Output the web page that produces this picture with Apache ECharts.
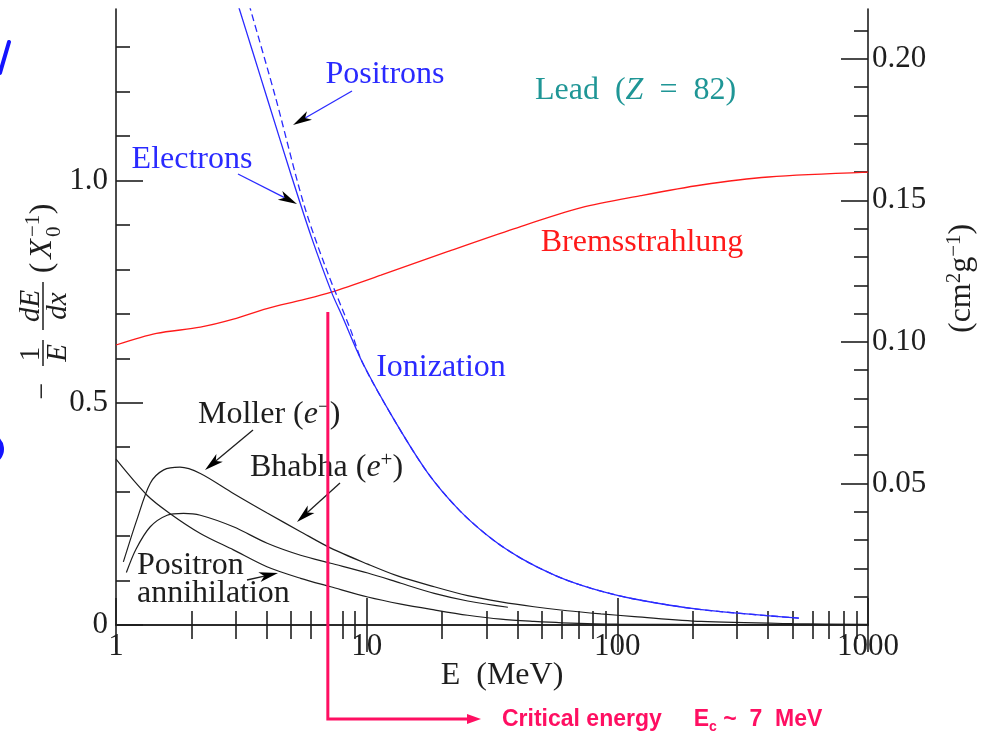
<!DOCTYPE html>
<html>
<head>
<meta charset="utf-8">
<script src="https://cdn.jsdelivr.net/npm/echarts@6/dist/echarts.min.js"></script>
<style>
  html, body { margin: 0; padding: 0; background: #ffffff; }
  #chart { width: 981px; height: 735px; }
</style>
</head>
<body>
<div id="chart"></div>
<script>
// Fractional energy loss per radiation length in lead, -(1/E) dE/dx in units of 1/X0.
// Energies in MeV.
const ionElectronE = [3.0, 3.105, 3.5, 4.0, 5.0, 6.0, 7.24, 8.0, 9.61, 12.86, 17.49, 23.4, 31.33, 41.3, 57.0, 78.7, 116.9, 216.8, 529.7];
const ionElectronV = [1.412, 1.386, 1.292, 1.187, 1.012, 0.875, 0.749, 0.694, 0.591, 0.462, 0.343, 0.2585, 0.195, 0.150, 0.1105, 0.0825, 0.0585, 0.0345, 0.0155];

const ionPositronE = [3.3, 3.436, 4.325, 5.598, 6.855, 8.63, 9.61, 12.86, 17.49, 23.4, 31.33, 41.3, 57.0, 78.7, 116.9, 216.8, 529.7];
const ionPositronV = [1.421, 1.386, 1.188, 0.949, 0.805, 0.664, 0.591, 0.462, 0.343, 0.2585, 0.195, 0.150, 0.1105, 0.0825, 0.0585, 0.0345, 0.0155];

const bremsE = [1, 1.45, 2.17, 2.94, 4.0, 5.5, 7.24, 11.4, 21.0, 38.9, 71.8, 124, 216, 401, 1000];
const bremsV = [0.630, 0.656, 0.670, 0.688, 0.712, 0.731, 0.749, 0.787, 0.840, 0.892, 0.939, 0.966, 0.990, 1.008, 1.019];

const mollerE = [1.07, 1.21, 1.37, 1.55, 1.8, 2.17, 2.94, 4.01, 5.45, 7.19, 10.1, 13.2, 18.6, 25.3, 34.3, 46.5, 63.1, 86, 117, 216, 500, 1000];
const mollerV = [0.142, 0.236, 0.319, 0.349, 0.355, 0.341, 0.296, 0.252, 0.210, 0.173, 0.137, 0.111, 0.086, 0.066, 0.052, 0.041, 0.032, 0.025, 0.019, 0.0080, 0.003, 0.0015];

const bhabhaE = [1.10, 1.2, 1.37, 1.6, 1.86, 2.17, 2.94, 4.01, 5.45, 7.19, 10.1, 13.7, 18.6, 25.3, 36.6];
const bhabhaV = [0.118, 0.170, 0.221, 0.247, 0.251, 0.247, 0.221, 0.184, 0.157, 0.139, 0.117, 0.094, 0.071, 0.054, 0.040];

const annihE = [1, 1.33, 1.64, 2.17, 2.94, 4.0, 5.45, 7.19, 10.1, 13.7, 18.6, 25.3, 34.3, 46.5, 60, 100, 1000];
const annihV = [0.373, 0.292, 0.251, 0.206, 0.169, 0.131, 0.105, 0.086, 0.063, 0.047, 0.034, 0.022, 0.013, 0.0080, 0.0050, 0.002, 0.0005];

// Axis ticks
const xMajorTicks = [1, 10, 100, 1000];
const xMinorTicks = [2, 3, 4, 5, 6, 7, 8, 9, 20, 30, 40, 50, 60, 70, 80, 90, 200, 300, 400, 500, 600, 700, 800, 900];
const leftMajorTicks = [0, 0.5, 1.0];
const leftMinorTicks = [0.1, 0.2, 0.3, 0.4, 0.6, 0.7, 0.8, 0.9, 1.1, 1.2, 1.3];
const rightMajorTicks = [0.05, 0.10, 0.15, 0.20];
const rightMinorTicks = [0.01, 0.02, 0.03, 0.04, 0.06, 0.07, 0.08, 0.09, 0.11, 0.12, 0.13, 0.14, 0.16, 0.17, 0.18, 0.19, 0.21];

const leftMax = 1.386;
const radiationLengthLead = 6.37;          // g cm^-2
const rightMax = leftMax / radiationLengthLead;
const criticalEnergy = 7;                   // MeV

const SERIF = "'Liberation Serif', 'DejaVu Serif', serif";
const SANS = "'Liberation Sans', Arial, sans-serif";
const INK = '#1e1e1e';
const BLUE = '#2a2aff';
const PINK = '#ff0f62';
const FS = 32;

function zip(xs, ys) { return xs.map((x, i) => [x, ys[i]]); }

const chart = echarts.init(document.getElementById('chart'), null, { renderer: 'canvas' });

const axisLineStyle = { color: INK, width: 1.6 };
const tickStyle = { color: INK, width: 1.6 };
const labelFont = { fontFamily: SERIF, fontSize: 31, color: INK };

function xAxisDef(position, major) {
  return {
    type: 'log', logBase: 10, min: 1, max: 1000, position: position,
    axisLine: { show: major, lineStyle: axisLineStyle },
    axisTick: { show: true, inside: true, length: major ? 27 : 14,
                customValues: major ? xMajorTicks : xMinorTicks, lineStyle: tickStyle },
    axisLabel: (major && position === 'bottom')
      ? Object.assign({ show: true, margin: 6, customValues: xMajorTicks,
                        formatter: v => String(Math.round(v)) }, labelFont)
      : { show: false },
    splitLine: { show: false },
    minorTick: { show: false }
  };
}

function yAxisDef(position, major, max, majors, minors, fmt) {
  return {
    type: 'value', min: 0, max: max, position: position,
    axisLine: { show: major, lineStyle: axisLineStyle },
    axisTick: { show: true, inside: true, length: major ? 27 : 14,
                customValues: major ? majors : minors, lineStyle: tickStyle },
    axisLabel: major
      ? Object.assign({ show: true, margin: position === 'left' ? 8 : 4, customValues: majors, formatter: fmt }, labelFont)
      : { show: false },
    splitLine: { show: false }
  };
}

function lineSeries(name, xs, ys, color, width, type, z) {
  return {
    name: name, type: 'line', xAxisIndex: 0, yAxisIndex: 0,
    data: zip(xs, ys), showSymbol: false, symbol: 'none',
    smooth: 0.3, clip: true, z: z,
    lineStyle: { color: color, width: width, type: type },
    emphasis: { disabled: true }, silent: true
  };
}

chart.setOption({
  animation: false,
  backgroundColor: '#ffffff',
  grid: { left: 116, right: 113, top: 9, bottom: 110, containLabel: false },
  xAxis: [
    xAxisDef('bottom', true),
    xAxisDef('bottom', false),
    xAxisDef('top', true),
    xAxisDef('top', false)
  ],
  yAxis: [
    yAxisDef('left', true, leftMax, leftMajorTicks, leftMinorTicks, v => v === 0 ? '0' : v.toFixed(1)),
    yAxisDef('left', false, leftMax, leftMajorTicks, leftMinorTicks),
    yAxisDef('right', true, rightMax, rightMajorTicks, rightMinorTicks, v => v.toFixed(2)),
    yAxisDef('right', false, rightMax, rightMajorTicks, rightMinorTicks)
  ],
  series: [
    lineSeries('Positron annihilation', annihE, annihV, INK, 1.2, 'solid', 2),
    lineSeries('Bhabha', bhabhaE, bhabhaV, INK, 1.2, 'solid', 2),
    lineSeries('Moller', mollerE, mollerV, INK, 1.2, 'solid', 2),
    lineSeries('Bremsstrahlung', bremsE, bremsV, '#ff1a1a', 1.3, 'solid', 3),
    lineSeries('Ionization e-', ionElectronE, ionElectronV, BLUE, 1.3, 'solid', 4),
    lineSeries('Ionization e+', ionPositronE, ionPositronV, BLUE, 1.3, [7, 4], 4)
  ]
});

// ---- annotations ----
function arrow(x1, y1, x2, y2, lineColor, headColor) {
  const dx = x2 - x1, dy = y2 - y1;
  const len = Math.hypot(dx, dy);
  const ux = dx / len, uy = dy / len;
  const nx = -uy, ny = ux;
  const L = 19, W = 5, N = 5;
  return [
    { type: 'line', z: 20, silent: true,
      shape: { x1: x1, y1: y1, x2: x2 - ux * (L - N), y2: y2 - uy * (L - N) },
      style: { stroke: lineColor, lineWidth: 1.3 } },
    { type: 'polygon', z: 21, silent: true,
      shape: { points: [
        [x2, y2],
        [x2 - ux * L + nx * W, y2 - uy * L + ny * W],
        [x2 - ux * (L - N), y2 - uy * (L - N)],
        [x2 - ux * L - nx * W, y2 - uy * L - ny * W]
      ] },
      style: { fill: headColor } }
  ];
}

function label(x, y, text, rich, opts) {
  return {
    type: 'text', x: x, y: y, z: 15, silent: true,
    style: Object.assign({
      text: text, rich: rich || undefined,
      fontFamily: SERIF, fontSize: FS, fill: INK,
      align: 'left', verticalAlign: 'middle'
    }, opts || {})
  };
}

const richMath = (color, size) => ({
  a: { fontFamily: SERIF, fontSize: size || FS, fill: color, lineHeight: 37 },
  i: { fontFamily: SERIF, fontSize: size || FS, fontStyle: 'italic', fill: color, lineHeight: 37 },
  s: { fontFamily: SERIF, fontSize: 21, fill: color, lineHeight: 21, verticalAlign: 'top' }
});

function buildGraphics() {
  const toX = v => chart.convertToPixel({ xAxisIndex: 0 }, v);
  const toY = v => chart.convertToPixel({ yAxisIndex: 0 }, v);
  const ecX = toX(criticalEnergy);
  const ecTop = toY(0.704);
  const ecBottom = 719;

  const g = [];

  // curve labels
  g.push(label(385, 75, 'Positrons', null, { fill: BLUE, align: 'center' }));
  g.push(label(192, 160, 'Electrons', null, { fill: BLUE, align: 'center' }));
  g.push(label(441, 368, 'Ionization', null, { fill: BLUE, align: 'center' }));
  g.push(label(642, 243, 'Bremsstrahlung', null, { fill: '#ff1a1a', align: 'center' }));
  g.push(label(535, 91, '{a|Lead  (}{i|Z}{a|  =  82)}', richMath('#1f9696'), { fill: '#1f9696' }));
  g.push(label(198, 415, '{a|Moller (}{i|e}{s|−}{a|)}', richMath(INK)));
  g.push(label(250, 468, '{a|Bhabha (}{i|e}{s|+}{a|)}', richMath(INK)));
  g.push(label(137, 566, 'Positron'));
  g.push(label(137, 594, 'annihilation'));

  // pointer arrows
  g.push(...arrow(352, 91, 293, 125, BLUE, '#000'));
  g.push(...arrow(238, 174, 297, 204, BLUE, '#000'));
  g.push(...arrow(253, 430, 205, 470, INK, '#000'));
  g.push(...arrow(340, 483, 297, 522, INK, '#000'));
  g.push(...arrow(247, 580, 278, 573, INK, '#000'));

  // x-axis title
  g.push(label(502, 676, 'E  (MeV)', null, { align: 'center' }));

  // left axis title: -(1/E)(dE/dx) (X0^-1), rotated
  const fr = 29;
  g.push({
    type: 'group', x: 43, y: 395, rotation: Math.PI / 2, silent: true,
    children: [
      { type: 'text', x: 4, y: 0, style: { text: '−', fontFamily: SERIF, fontSize: 30, fill: INK, align: 'center', verticalAlign: 'middle' } },
      { type: 'text', x: 41, y: 3, style: { text: '1', fontFamily: SERIF, fontSize: fr, fill: INK, align: 'center', verticalAlign: 'bottom' } },
      { type: 'line', shape: { x1: 29, y1: 0, x2: 55, y2: 0 }, style: { stroke: INK, lineWidth: 1.5 } },
      { type: 'text', x: 42, y: 1, style: { text: 'E', fontFamily: SERIF, fontStyle: 'italic', fontSize: fr, fill: INK, align: 'center', verticalAlign: 'top' } },
      { type: 'text', x: 89, y: 3, style: { text: 'dE', fontFamily: SERIF, fontStyle: 'italic', fontSize: fr, fill: INK, align: 'center', verticalAlign: 'bottom' } },
      { type: 'line', shape: { x1: 65, y1: 0, x2: 113, y2: 0 }, style: { stroke: INK, lineWidth: 1.5 } },
      { type: 'text', x: 89, y: 1, style: { text: 'dx', fontFamily: SERIF, fontStyle: 'italic', fontSize: fr, fill: INK, align: 'center', verticalAlign: 'top' } },
      { type: 'text', x: 127, y: 0, style: { text: '(', fontFamily: SERIF, fontSize: 32, fill: INK, align: 'center', verticalAlign: 'middle' } },
      { type: 'text', x: 146, y: 0, style: { text: 'X', fontFamily: SERIF, fontStyle: 'italic', fontSize: 32, fill: INK, align: 'center', verticalAlign: 'middle' } },
      { type: 'text', x: 158, y: -10, style: { text: '−1', fontFamily: SERIF, fontSize: 21, fill: INK, align: 'left', verticalAlign: 'middle' } },
      { type: 'text', x: 158, y: 11, style: { text: '0', fontFamily: SERIF, fontSize: 21, fill: INK, align: 'left', verticalAlign: 'middle' } },
      { type: 'text', x: 186, y: 0, style: { text: ')', fontFamily: SERIF, fontSize: 32, fill: INK, align: 'center', verticalAlign: 'middle' } }
    ]
  });

  // right axis title: (cm^2 g^-1), rotated
  g.push({
    type: 'group', x: 962, y: 333, rotation: Math.PI / 2, silent: true,
    children: [
      { type: 'text', x: 0, y: 0, style: {
        text: '{a|(cm}{s|2}{a|g}{s|−1}{a|)}', rich: richMath(INK),
        fontFamily: SERIF, fontSize: FS, fill: INK, align: 'left', verticalAlign: 'middle' } }
    ]
  });

  // critical energy marker
  g.push({ type: 'polyline', z: 30, silent: true,
    shape: { points: [[ecX, ecTop], [ecX, ecBottom], [470, ecBottom]] },
    style: { stroke: PINK, lineWidth: 3, fill: null } });
  g.push({ type: 'polygon', z: 30, silent: true,
    shape: { points: [[481, ecBottom], [467, ecBottom - 5], [467, ecBottom + 5]] },
    style: { fill: PINK } });
  g.push({
    type: 'text', x: 502, y: 720, z: 30, silent: true,
    style: {
      text: '{b|Critical energy     E}{c|c}{b| ~  7  MeV}',
      rich: {
        b: { fontFamily: SANS, fontWeight: 'bold', fontSize: 23, fill: PINK, lineHeight: 28 },
        c: { fontFamily: SANS, fontWeight: 'bold', fontSize: 14, fill: PINK, lineHeight: 14, verticalAlign: 'bottom' }
      },
      fontFamily: SANS, fontWeight: 'bold', fontSize: 23, fill: PINK,
      align: 'left', verticalAlign: 'middle'
    }
  });

  // fragments of large blue lettering at the left margin
  g.push({ type: 'line', z: 5, silent: true,
    shape: { x1: 0, y1: 73, x2: 9, y2: 42 },
    style: { stroke: '#1414ff', lineWidth: 4, lineCap: 'round' } });
  g.push({ type: 'arc', z: 5, silent: true,
    shape: { cx: -12, cy: 449, r: 14, startAngle: -0.9, endAngle: 0.9 },
    style: { stroke: '#1414ff', lineWidth: 4, fill: null } });

  chart.setOption({ graphic: g });
}

buildGraphics();
</script>
</body>
</html>
